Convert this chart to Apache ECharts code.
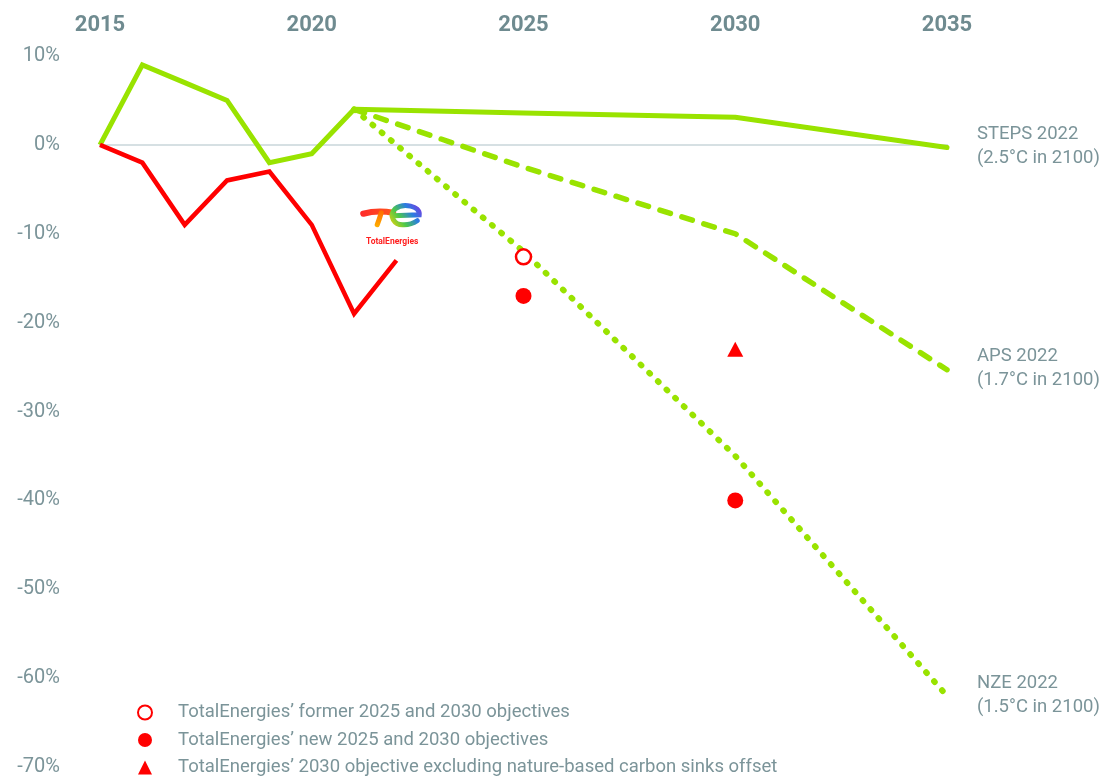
<!DOCTYPE html>
<html lang="en">
<head>
    <meta charset="UTF-8">
    <title>Emissions trajectory</title>
    <script src="https://cdn.jsdelivr.net/npm/echarts@6/dist/echarts.min.js"></script>
    <style>
        html, body { margin: 0; padding: 0; background: #fff; }
        #main { width: 1105px; height: 777px; }
    </style>
</head>
<body>
<div id="main"></div>
<script>
    // historical values (% vs 2015)
    var histYears = [2015, 2016, 2017, 2018, 2019, 2020, 2021, 2022];
    var totalEnergies = [0, -2, -9, -4, -3, -9, -19, -13];
    var worldHist = [0, 9, 7, 5, -2, -1, 4];

    // IEA scenarios from 2021
    var scenYears = [2021, 2025, 2030, 2035];
    var steps = [4, 3.6, 3.1, -0.3];
    var aps = [4, -2.5, -10, -25.3];
    var nze = [4, -12, -35, -62];

    // TotalEnergies objectives
    var formerObj = [[2025, -12.6]];
    var newObj = [[2025, -17], [2030, -40]];
    var exclSinksObj = [[2030, -23]];

    var logoPos = [[2021.9, -8.2]];
    var zeroLine = [[2014.5, 0], [2035.5, 0]];

    var xTicks = [2015, 2020, 2025, 2030, 2035];
    var yTicks = [10, 0, -10, -20, -30, -40, -50, -60, -70];

    var GREEN = '#99e300';
    var RED = '#ff0000';
    var GREY = '#7b9499';

    function pair(xs, ys) {
        return ys.map(function (v, i) { return [xs[i], v]; });
    }

    var legendNames = [
        'TotalEnergies\u2019 former 2025 and 2030 objectives',
        'TotalEnergies\u2019 new 2025 and 2030 objectives',
        'TotalEnergies\u2019 2030 objective excluding nature-based carbon sinks offset'
    ];

    function endLabel(text) {
        return {
            show: true,
            formatter: text,
            distance: 30,
            offset: [0, -1],
            color: GREY,
            fontSize: 18.5,
            lineHeight: 24,
            fontFamily: 'Roboto'
        };
    }

    var chart = echarts.init(document.getElementById('main'));
    chart.setOption({
        animation: false,
        backgroundColor: '#fff',
        textStyle: { fontFamily: 'Roboto' },
        grid: { left: 100, right: 158, top: 56, bottom: 9 },
        legend: {
            data: legendNames,
            orient: 'vertical',
            left: 137,
            top: 703,
            height: 120,
            padding: 0,
            itemWidth: 14,
            itemHeight: 14,
            itemGap: 8.5,
            textStyle: { color: GREY, fontSize: 18.5, fontFamily: 'Roboto', padding: [0, 0, 0, 21] },
            selectedMode: false
        },
        xAxis: {
            type: 'value',
            position: 'top',
            min: 2015,
            max: 2035,
            interval: 5,
            axisLine: { show: false },
            axisTick: { show: false },
            splitLine: { show: false },
            axisLabel: {
                margin: 20,
                fontSize: 22,
                fontWeight: 'bold',
                color: '#6f8b90',
                formatter: function (v) { return xTicks.indexOf(v) >= 0 ? String(v) : ''; }
            }
        },
        yAxis: {
            type: 'value',
            min: -70,
            max: 10,
            interval: 10,
            axisLine: { show: false },
            axisTick: { show: false },
            splitLine: { show: false },
            axisLabel: {
                margin: 40,
                fontSize: 20,
                color: GREY,
                padding: [4, 0, 0, 0],
                formatter: function (v) { return yTicks.indexOf(v) >= 0 ? v + '%' : ''; }
            }
        },
        series: [
            {
                name: 'zero',
                type: 'line',
                data: zeroLine,
                clip: false,
                silent: true,
                symbol: 'none',
                z: 1,
                lineStyle: { color: '#d6e0e3', width: 2 }
            },
            {
                name: 'World history',
                type: 'line',
                data: pair(histYears, worldHist),
                symbol: 'none',
                z: 3,
                lineStyle: { color: GREEN, width: 5, join: 'miter' }
            },
            {
                name: 'STEPS 2022',
                type: 'line',
                data: pair(scenYears, steps),
                symbol: 'none',
                z: 3,
                lineStyle: { color: GREEN, width: 5, cap: 'round' },
                endLabel: endLabel('STEPS 2022\n(2.5\u00b0C in 2100)')
            },
            {
                name: 'APS 2022',
                type: 'line',
                data: pair(scenYears, aps),
                symbol: 'none',
                z: 3,
                lineStyle: { color: GREEN, width: 5.5, type: [11, 12], cap: 'round' },
                endLabel: endLabel('APS 2022\n(1.7\u00b0C in 2100)')
            },
            {
                name: 'NZE 2022',
                type: 'line',
                data: pair(scenYears, nze),
                symbol: 'none',
                z: 3,
                lineStyle: { color: GREEN, width: 6, type: [1, 11], cap: 'round' },
                endLabel: endLabel('NZE 2022\n(1.5\u00b0C in 2100)')
            },
            {
                name: 'TotalEnergies',
                type: 'line',
                data: pair(histYears, totalEnergies),
                symbol: 'none',
                z: 4,
                lineStyle: { color: RED, width: 4.5, join: 'miter' }
            },
            {
                name: legendNames[0],
                type: 'scatter',
                data: formerObj,
                symbol: 'circle',
                symbolSize: 15,
                z: 5,
                itemStyle: { color: '#fff', borderColor: RED, borderWidth: 2.5, opacity: 1 }
            },
            {
                name: legendNames[1],
                type: 'scatter',
                data: newObj,
                symbol: 'circle',
                symbolSize: 16,
                z: 5,
                itemStyle: { color: RED, opacity: 1 }
            },
            {
                name: legendNames[2],
                type: 'scatter',
                data: exclSinksObj,
                symbol: 'triangle',
                symbolSize: [16, 15],
                z: 5,
                itemStyle: { color: RED, opacity: 1 }
            },
            {
                name: 'logo',
                type: 'custom',
                data: logoPos,
                silent: true,
                z: 6,
                renderItem: function (params, api) {
                    var p = api.coord([api.value(0), api.value(1)]);
                    return {
                        type: 'group',
                        x: p[0],
                        y: p[1],
                        children: [
                            {
                                type: 'path',
                                shape: { pathData: 'M-29,-4 Q-15,-8 1,-5' },
                                style: {
                                    fill: null, lineWidth: 6, lineCap: 'round',
                                    stroke: new echarts.graphic.LinearGradient(0, 0, 1, 0, [
                                        { offset: 0, color: '#ff2a2a' },
                                        { offset: 1, color: '#ff5a1a' }
                                    ])
                                }
                            },
                            {
                                type: 'path',
                                shape: { pathData: 'M-11,-5 Q-13,2 -15,7' },
                                style: {
                                    fill: null, lineWidth: 5, lineCap: 'round',
                                    stroke: new echarts.graphic.LinearGradient(0, 0, 0, 1, [
                                        { offset: 0, color: '#ff6a00' },
                                        { offset: 1, color: '#ffb000' }
                                    ])
                                }
                            },
                            {
                                type: 'path',
                                shape: { pathData: 'M1,-2 L27,-3 C28,-12 11,-15 3,-9 C-4,-2 2,8 12,7 C18,7 22,5 25,3' },
                                style: {
                                    fill: null, lineWidth: 5, lineCap: 'round',
                                    stroke: new echarts.graphic.LinearGradient(0, 1, 1, 0, [
                                        { offset: 0, color: '#ffd400' },
                                        { offset: 0.35, color: '#4cc84a' },
                                        { offset: 0.65, color: '#2a7de1' },
                                        { offset: 1, color: '#8a2be2' }
                                    ])
                                }
                            },
                            {
                                type: 'text',
                                x: 0,
                                y: 24,
                                style: {
                                    text: 'TotalEnergies',
                                    fill: '#ff2020',
                                    font: 'bold 8.5px Roboto',
                                    align: 'center',
                                    verticalAlign: 'middle'
                                }
                            }
                        ]
                    };
                }
            }
        ]
    });
</script>
</body>
</html>
